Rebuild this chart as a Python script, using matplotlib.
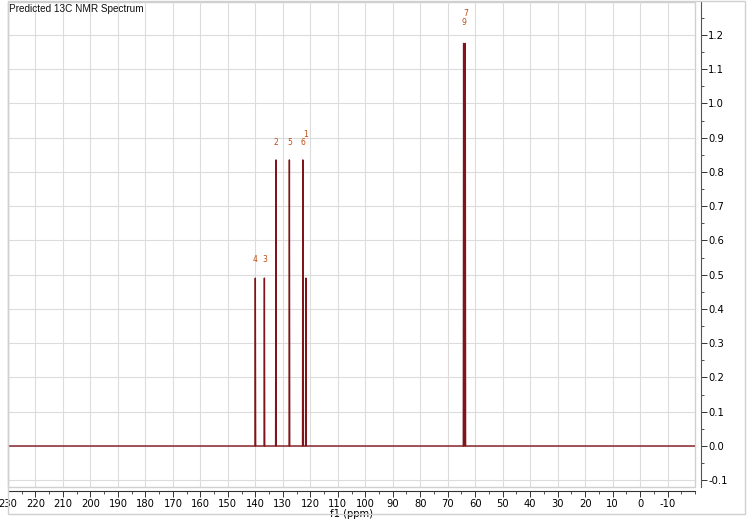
import matplotlib
matplotlib.use("Agg")
import matplotlib.pyplot as plt
from matplotlib.patches import Rectangle
from matplotlib.ticker import MultipleLocator, FixedLocator, FormatStrFormatter
import numpy as np

# ---- data ----
peak_ppm = [140.0, 136.7, 132.5, 127.6, 122.7, 121.6, 64.2, 63.6]
peak_height = [0.49, 0.49, 0.835, 0.835, 0.835, 0.49, 1.175, 1.175]
peak_label = ['4', '3', '2', '5', '6', '1', '9', '7']
x_ticks = [230, 220, 210, 200, 190, 180, 170, 160, 150, 140, 130, 120, 110,
           100, 90, 80, 70, 60, 50, 40, 30, 20, 10, 0, -10]
title = "Predicted 13C NMR Spectrum"
xlabel = "f1 (ppm)"
x_range = (230, -20)
y_range = (-0.1197, 1.296)

# ---- figure ----
plt.rcParams['font.family'] = ['DejaVu Sans']
plt.rcParams['axes.unicode_minus'] = False
W, H = 750, 527
fig = plt.figure(figsize=(W / 100, H / 100), dpi=100)

def fx(px):
    return px / W

def fy(py):
    return 1 - py / H

# outer frame
fig.patches.append(Rectangle((fx(8), fy(514)), fx(745) - fx(8), fy(1) - fy(514),
                             transform=fig.transFigure, fill=False,
                             edgecolor='#d0d0d0', linewidth=1.0))

left, right, top, bottom = 8, 695, 2, 487
ax = fig.add_axes([fx(left), fy(bottom), fx(right) - fx(left), fy(top) - fy(bottom)])
ax.set_xlim(*x_range)
ax.set_ylim(*y_range)

for s in ['left', 'top']:
    ax.spines[s].set_visible(False)
ax.spines['right'].set_position(('outward', 4))
ax.spines['right'].set_color('#555555')
ax.spines['right'].set_linewidth(0.8)
ax.spines['bottom'].set_position(('outward', 3))
ax.spines['bottom'].set_color('#333333')
ax.spines['bottom'].set_linewidth(0.8)

# plot-area border
ax.add_patch(Rectangle((0, 0), 1, 1, transform=ax.transAxes, fill=False,
                       edgecolor='#d0d0d0', linewidth=1.0, clip_on=False, zorder=0))

ax.yaxis.tick_right()
ax.yaxis.set_major_locator(MultipleLocator(0.1))
ax.yaxis.set_minor_locator(MultipleLocator(0.05))
ax.yaxis.set_major_formatter(FormatStrFormatter('%.1f'))
ax.xaxis.set_major_locator(FixedLocator(x_ticks))
ax.xaxis.set_minor_locator(MultipleLocator(5))
ax.tick_params(axis='both', which='major', length=4, width=0.7, labelsize=7.2,
               color='#333333', pad=1.5)
ax.tick_params(axis='both', which='minor', length=2, width=0.6, color='#333333')
ax.tick_params(axis='y', which='both', left=False, right=True)

ax.grid(True, which='major', color='#dcdcdc', linewidth=0.8)
ax.set_axisbelow(True)

# spectrum polyline built from the peak list
pts = [(x_range[0], 0.0)]
order = np.argsort(peak_ppm)[::-1]
w = 0.12
for i in order:
    p, h = peak_ppm[i], peak_height[i]
    pts += [(p + w, 0.0), (p, h), (p - w, 0.0)]
pts.append((x_range[1], 0.0))
xs, ys = zip(*pts)
ax.plot(xs, ys, color='#80141a', linewidth=1.0, zorder=3)

# peak labels
label_offset = {'4': 0.053, '3': 0.053, '2': 0.05, '5': 0.05, '6': 0.05,
                '1': 0.42, '9': 0.06, '7': 0.086}
for p, h, lab in zip(peak_ppm, peak_height, peak_label):
    ax.text(p, h + label_offset[lab], lab, color='#c04a10', fontsize=5.5,
            ha='center', va='center', zorder=4)

ax.text(0.0015, 0.995, title, transform=ax.transAxes, fontsize=7.2,
        family=['Liberation Sans', 'DejaVu Sans'],
        ha='left', va='top', color='#111111')

ax.set_xlabel(xlabel, fontsize=7.2, labelpad=0)

fig.savefig('out.png', dpi=100)
